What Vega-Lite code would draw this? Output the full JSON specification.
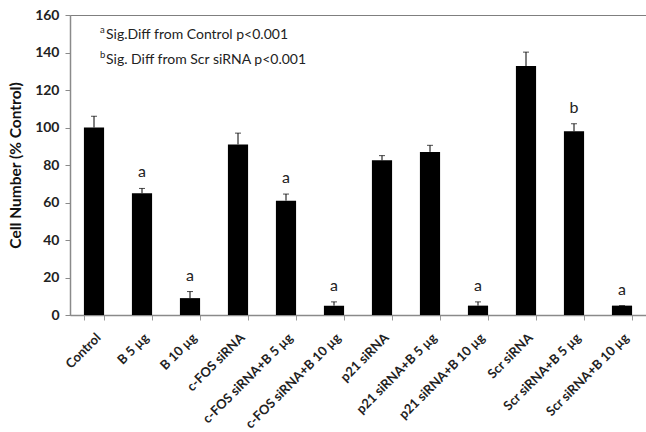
{
  "$schema": "https://vega.github.io/schema/vega-lite/v6.json",
  "autosize": {"type": "none"},
  "padding": {"left": 70, "top": 15, "right": 0, "bottom": 117},
  "width": 576,
  "height": 300,
  "background": "white",
  "config": {
    "view": {"stroke": "#7f7f7f", "strokeWidth": 1},
    "font": "Lato",
    "axis": {"labelOverlap": false},
    "axisY": {
      "title": "Cell Number (% Control)", "titleFont": "Lato", "titleFontWeight": "bold",
      "titleFontSize": 15.5, "titleColor": "#111", "titlePadding": 11,
      "tickCount": 9, "labelOverlap": false,
      "labelFont": "Lato", "labelFontWeight": "bold", "labelFontSize": 14, "labelColor": "#222",
      "grid": false, "tickColor": "#8a8a8a", "tickSize": 5, "labelPadding": 6,
      "domainColor": "#8a8a8a", "domainWidth": 1.5
    },
    "axisX": {
      "labelAngle": -45, "labelFont": "Lato", "labelFontWeight": "bold",
      "labelFontSize": 13, "labelColor": "#222", "labelPadding": 11, "labelOverlap": false,
      "tickBand": "extent", "tickColor": "#9a9a9a", "tickSize": 5,
      "domainColor": "#8a8a8a", "domainWidth": 1.5
    }
  },
  "datasets": {
    "bars": [
      {"cond": "Control", "value": 100, "err": 106, "sig": ""},
      {"cond": "B 5 µg", "value": 65, "err": 67.5, "sig": "a"},
      {"cond": "B 10 µg", "value": 9, "err": 12.5, "sig": "a"},
      {"cond": "c-FOS siRNA", "value": 91, "err": 97, "sig": ""},
      {"cond": "c-FOS siRNA+B 5 µg", "value": 61, "err": 64.5, "sig": "a"},
      {"cond": "c-FOS siRNA+B 10 µg", "value": 5, "err": 7, "sig": "a"},
      {"cond": "p21 siRNA", "value": 82.5, "err": 85, "sig": ""},
      {"cond": "p21 siRNA+B 5 µg", "value": 87, "err": 90.5, "sig": ""},
      {"cond": "p21 siRNA+B 10 µg", "value": 5, "err": 7, "sig": "a"},
      {"cond": "Scr siRNA", "value": 132.8, "err": 140.2, "sig": ""},
      {"cond": "Scr siRNA+B 5 µg", "value": 98, "err": 102, "sig": "b"},
      {"cond": "Scr siRNA+B 10 µg", "value": 5, "err": 5, "sig": "a"}
    ],
    "notes": [
      {"sup": "a", "text": "Sig.Diff from Control p<0.001", "pos": 149.3},
      {"sup": "b", "text": "Sig. Diff from Scr siRNA p<0.001", "pos": 136}
    ]
  },
  "layer": [
    {
      "data": {"name": "bars"},
      "mark": {"type": "bar", "color": "black"},
      "encoding": {
        "x": {
          "field": "cond", "type": "nominal", "sort": null,
          "scale": {"paddingInner": 0.58, "paddingOuter": 0.29},
          "axis": {"title": null}
        },
        "y": {
          "field": "value", "type": "quantitative",
          "scale": {"domain": [0, 160], "nice": false},
          "axis": {"title": "Cell Number (% Control)", "values": [0, 20, 40, 60, 80, 100, 120, 140, 160]}
        }
      }
    },
    {
      "data": {"name": "bars"},
      "mark": {"type": "rule", "color": "black", "strokeWidth": 1},
      "encoding": {
        "x": {"field": "cond", "type": "nominal", "sort": null, "axis": {"title": null}},
        "y": {"field": "value", "type": "quantitative", "axis": {"title": "Cell Number (% Control)", "values": [0, 20, 40, 60, 80, 100, 120, 140, 160]}},
        "y2": {"field": "err"}
      }
    },
    {
      "data": {"name": "bars"},
      "mark": {"type": "tick", "color": "black", "thickness": 1, "size": 6, "orient": "horizontal"},
      "encoding": {
        "x": {"field": "cond", "type": "nominal", "sort": null, "axis": {"title": null}},
        "y": {"field": "err", "type": "quantitative", "axis": {"title": "Cell Number (% Control)", "values": [0, 20, 40, 60, 80, 100, 120, 140, 160]}}
      }
    },
    {
      "mark": {"type": "rule", "color": "#777777", "strokeDash": [5, 3], "strokeWidth": 1.5},
      "encoding": {"y": {"datum": 100, "axis": {"title": "Cell Number (% Control)", "values": [0, 20, 40, 60, 80, 100, 120, 140, 160]}}}
    },
    {
      "data": {"name": "bars"},
      "mark": {"type": "text", "font": "Lato", "fontSize": 16, "color": "#222", "baseline": "bottom", "dy": -8},
      "encoding": {
        "x": {"field": "cond", "type": "nominal", "sort": null, "axis": {"title": null}},
        "y": {"field": "err", "type": "quantitative", "axis": {"title": "Cell Number (% Control)", "values": [0, 20, 40, 60, 80, 100, 120, 140, 160]}},
        "text": {"field": "sig"}
      }
    },
    {
      "data": {"name": "notes"},
      "mark": {"type": "text", "font": "Lato", "fontSize": 9.5, "color": "#222", "align": "left", "baseline": "middle", "dx": 6, "dy": -5},
      "encoding": {
        "x": {"datum": "Control", "axis": {"title": null}},
        "y": {"field": "pos", "type": "quantitative", "axis": {"title": "Cell Number (% Control)", "values": [0, 20, 40, 60, 80, 100, 120, 140, 160]}},
        "text": {"field": "sup"}
      }
    },
    {
      "data": {"name": "notes"},
      "mark": {"type": "text", "font": "Lato", "fontSize": 14, "color": "#222", "align": "left", "baseline": "middle", "dx": 12},
      "encoding": {
        "x": {"datum": "Control", "axis": {"title": null}},
        "y": {"field": "pos", "type": "quantitative", "axis": {"title": "Cell Number (% Control)", "values": [0, 20, 40, 60, 80, 100, 120, 140, 160]}},
        "text": {"field": "text"}
      }
    }
  ]
}
